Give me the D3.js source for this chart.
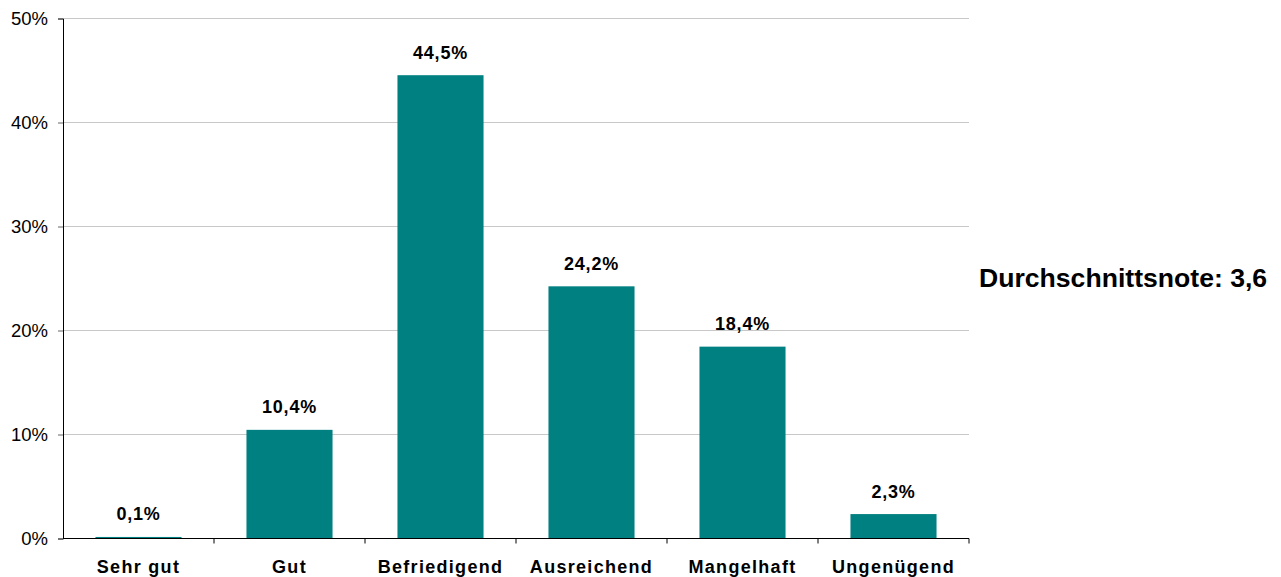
<!DOCTYPE html>
<html>
<head>
<meta charset="utf-8">
<script src="https://cdn.jsdelivr.net/npm/d3@7"></script>
<style>
    body { margin: 0; background: #fff; }
    svg { display: block; font-family: Arial, "Liberation Sans", sans-serif; }
</style>
</head>
<body>
<div id="chart"></div>
<script>
//Datos
const categorias = ['Sehr gut', 'Gut', 'Befriedigend', 'Ausreichend', 'Mangelhaft', 'Ungenügend'];
const valores = [0.1, 10.4, 44.5, 24.2, 18.4, 2.3];
const ticksY = [0, 10, 20, 30, 40, 50];
const nota = 'Durchschnittsnote: 3,6';

const COLOR_BAR = '#008080';

let margin = {top: 18.5, right: 312, bottom: 38.5, left: 63},
    width = 1281 - margin.left - margin.right,
    height = 577 - margin.top - margin.bottom;

let svg = d3.select('#chart')
    .append('svg')
        .attr('width', 1281)
        .attr('height', 577)
    .append('g')
        .attr('transform', 'translate(' + margin.left + ',' + margin.top + ')');

let x = d3.scaleBand()
    .domain(categorias)
    .range([0, width])
    .paddingInner(0.43)
    .paddingOuter(0.215);

let y = d3.scaleLinear()
    .domain([0, 50])
    .range([height, 0]);

//Rejilla
svg.append('g')
    .selectAll('line')
    .data(ticksY.slice(1))
    .enter()
    .append('line')
    .attr('x1', 0)
    .attr('x2', width)
    .attr('y1', function(d) { return y(d); })
    .attr('y2', function(d) { return y(d); })
    .attr('stroke', '#c8c8c8')
    .attr('stroke-width', 1);

//Eje Y
let yAxis = svg.append('g')
    .call(d3.axisLeft(y).tickValues(ticksY).tickSize(5).tickPadding(10).tickFormat(function(d) { return d + '%'; }));
yAxis.select('.domain').attr('stroke', '#000');
yAxis.selectAll('.tick line').attr('stroke', '#666');
yAxis.selectAll('.tick text')
    .attr('font-size', 18.5)
    .attr('fill', '#000')
    .attr('font-family', 'Arial, "Liberation Sans", sans-serif');

//Barras
svg.append('g')
    .selectAll('rect')
    .data(valores)
    .enter()
    .append('rect')
    .attr('x', function(d, i) { return x(categorias[i]); })
    .attr('width', x.bandwidth())
    .attr('y', function(d) { return y(d) - 0.5; })
    .attr('height', function(d) { return y(0) - y(d) + 0.5; })
    .attr('fill', COLOR_BAR);

//Etiquetas de valor
svg.append('g')
    .selectAll('text')
    .data(valores)
    .enter()
    .append('text')
    .attr('x', function(d, i) { return x(categorias[i]) + x.bandwidth() / 2; })
    .attr('y', function(d) { return y(d) - 17; })
    .attr('text-anchor', 'middle')
    .attr('font-size', 18)
    .attr('font-weight', 'bold')
    .attr('letter-spacing', 0.8)
    .text(function(d) { return String(d.toFixed(1)).replace('.', ',') + '%'; });

//Eje X
let bordes = d3.range(categorias.length + 1).map(function(i) { return i * width / categorias.length; });
let xAxis = svg.append('g').attr('transform', 'translate(0,' + height + ')');
xAxis.append('line')
    .attr('x1', 0).attr('x2', width)
    .attr('stroke', '#000');
xAxis.selectAll('.tickx')
    .data(bordes.slice(1))
    .enter()
    .append('line')
    .attr('class', 'tickx')
    .attr('x1', function(d) { return d; })
    .attr('x2', function(d) { return d; })
    .attr('y1', 0).attr('y2', 5)
    .attr('stroke', '#000');
xAxis.selectAll('text')
    .data(categorias)
    .enter()
    .append('text')
    .attr('x', function(d) { return x(d) + x.bandwidth() / 2; })
    .attr('y', 34)
    .attr('text-anchor', 'middle')
    .attr('font-size', 18)
    .attr('font-weight', 'bold')
    .attr('letter-spacing', 1.3)
    .text(function(d) { return d; });

//Nota media
d3.select('svg').append('text')
    .attr('x', 979)
    .attr('y', 287)
    .attr('font-size', 26.6)
    .attr('font-weight', 'bold')
    .text(nota);
</script>
</body>
</html>
